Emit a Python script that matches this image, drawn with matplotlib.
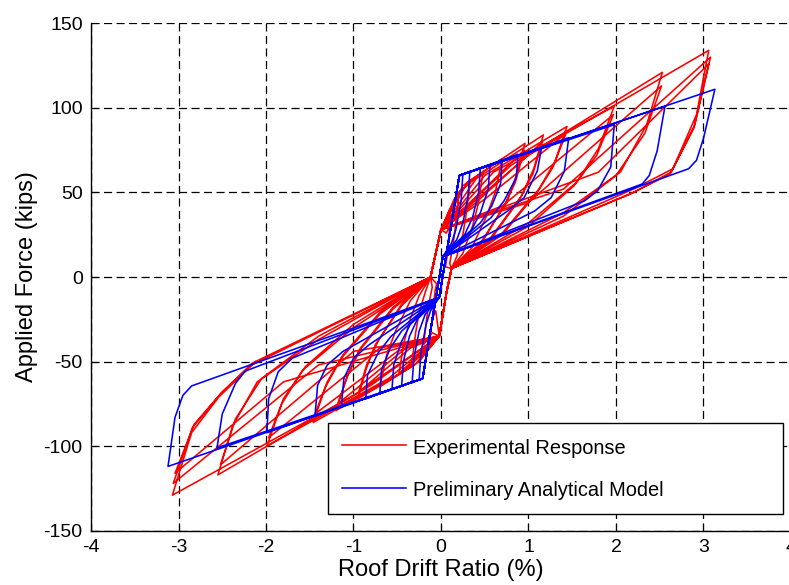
"""
Cyclic response of the wall: experiment against the preliminary model.

Each half cycle is stored as a few key points read off the original figure
(peak, unloading bends, return point) and joined into one polyline per series.
"""

import matplotlib.pyplot as plt
import numpy as np

# ---- experimental response (red), one entry per cycle ----
RED_POS_PEAK_X = [0.10, 0.20, 0.33, 0.48, 0.70, 0.96, 0.95, 1.17, 1.16, 1.44, 1.43, 1.98, 1.97, 2.53, 2.52, 3.06, 3.08, 3.06]
RED_POS_PEAK_Y = [30, 47, 56, 62, 70, 79, 75, 84, 80, 89, 85, 101, 96, 121, 113, 134, 130, 126]
RED_POS_VIA_X = [0.06, 0.10, 0.15, 0.20, 0.25, 0.30, 0.35, 0.40, 0.40, 0.50, 0.50, 0.60, 0.70, 0.80, 1.00, 1.00, 1.40, 1.80]
RED_POS_VIA_Y = [26, 40, 46, 50, 54, 56, 45, 58, 44, 60, 46, 62, 42, 66, 44, 72, 52, 62]
RED_POS_K1_X = [0.08, 0.17, 0.29, 0.42, 0.62, 0.86, 0.85, 1.06, 1.05, 1.30, 1.28, 1.80, 1.78, 2.35, 2.33, 2.92, 2.90, 2.89]
RED_POS_K1_Y = [18, 32, 38, 42, 50, 60, 56, 64, 61, 68, 65, 76, 72, 90, 85, 96, 90, 88]
RED_POS_K2_X = [0.07, 0.14, 0.25, 0.36, 0.52, 0.75, 0.72, 0.92, 0.90, 1.12, 1.10, 1.55, 1.52, 2.05, 2.00, 2.65, 2.63, 2.62]
RED_POS_K2_Y = [12, 20, 25, 30, 36, 44, 42, 48, 46, 52, 50, 56, 54, 62, 60, 64, 62, 61]
RED_POS_LOW_X = [0.05, 0.10, 0.18, 0.25, 0.35, 0.45, 0.45, 0.55, 0.55, 0.70, 0.70, 1.00, 1.00, 1.40, 1.40, 2.20, 2.20, 2.16]
RED_POS_LOW_Y = [6, 8, 12, 14, 17, 20, 19, 22, 21, 26, 25, 32, 30, 38, 36, 52, 50, 49]

RED_NEG_PEAK_X = [-0.10, -0.20, -0.33, -0.48, -0.70, -0.95, -0.94, -1.20, -1.18, -1.46, -1.44, -1.99, -1.97, -2.55, -2.52, -3.07, -3.06, -3.04]
RED_NEG_PEAK_Y = [-25, -40, -50, -57, -65, -72, -68, -79, -75, -86, -81, -100, -95, -117, -111, -129, -122, -116]
RED_NEG_VIA_X = [-0.06, -0.10, -0.15, -0.20, -0.25, -0.30, -0.35, -0.40, -0.40, -0.50, -0.50, -0.60, -0.70, -0.80, -1.00, -1.00, -1.40, -1.80]
RED_NEG_VIA_Y = [-20, -33, -40, -45, -50, -52, -42, -55, -42, -58, -44, -60, -42, -64, -44, -70, -52, -62]
RED_NEG_K1_X = [-0.08, -0.17, -0.29, -0.42, -0.62, -0.86, -0.85, -1.08, -1.06, -1.32, -1.30, -1.82, -1.80, -2.38, -2.35, -2.85, -2.84, -2.82]
RED_NEG_K1_Y = [-14, -27, -33, -38, -46, -55, -52, -60, -57, -65, -62, -75, -72, -88, -84, -92, -89, -87]
RED_NEG_K2_X = [-0.07, -0.14, -0.25, -0.36, -0.52, -0.75, -0.72, -0.94, -0.92, -1.14, -1.12, -1.58, -1.55, -2.10, -2.05, -2.54, -2.52, -2.50]
RED_NEG_K2_Y = [-9, -16, -21, -26, -32, -40, -38, -44, -42, -48, -46, -55, -53, -62, -60, -71, -69, -68]
RED_NEG_RET_X = [-0.05, -0.10, -0.18, -0.25, -0.35, -0.45, -0.45, -0.55, -0.55, -0.70, -0.70, -1.00, -1.00, -1.40, -1.40, -2.16, -2.16, -2.12]
RED_NEG_RET_Y = [-4, -6, -9, -11, -14, -17, -16, -19, -18, -22, -21, -30, -28, -37, -35, -52, -51, -50]

# points where the red curves cross the centre
RED_POS_START_X = [-0.12, 0.00]
RED_POS_START_Y = [0, 28]
RED_NEG_START_X = [0.12, 0.06, -0.02]
RED_NEG_START_Y = [5, -10, -35]

# ---- preliminary analytical model (blue), one entry per amplitude ----
BLUE_POS_PEAK_X = [0.25, 0.33, 0.45, 0.56, 0.70, 0.88, 1.15, 1.46, 1.98, 2.56, 3.13]
BLUE_POS_PEAK_Y = [61, 62.5, 64.5, 66.5, 69, 72.6, 76.5, 82.4, 90, 101, 111]
BLUE_POS_B1_X = [0.23, 0.31, 0.43, 0.54, 0.68, 0.86, 1.10, 1.41, 1.94, 2.47, 3.00]
BLUE_POS_B1_Y = [45, 48, 50, 52, 55, 58.7, 62.6, 62.6, 65, 74.5, 82]
BLUE_POS_B2_X = [0.17, 0.25, 0.36, 0.45, 0.58, 0.72, 0.95, 1.26, 1.79, 2.38, 2.92]
BLUE_POS_B2_Y = [28, 32, 35, 38, 42, 45, 46.9, 47, 51, 60, 69]
BLUE_POS_JOIN_X = [0.12, 0.18, 0.27, 0.35, 0.45, 0.57, 0.76, 1.07, 1.64, 2.30, 2.83]
BLUE_POS_JOIN_Y = [20, 22, 25, 28, 32, 35, 39, 39, 45, 55, 64]

BLUE_NEG_PEAK_X = [-0.25, -0.33, -0.45, -0.56, -0.70, -0.86, -1.14, -1.44, -1.99, -2.56, -3.12]
BLUE_NEG_PEAK_Y = [-61, -62.5, -64.5, -66.5, -69, -72, -77, -82, -92, -101, -112]
BLUE_NEG_B1_X = [-0.23, -0.31, -0.43, -0.54, -0.68, -0.84, -1.11, -1.41, -1.97, -2.50, -3.04]
BLUE_NEG_B1_Y = [-45, -48, -50, -52, -55, -58, -60, -64, -72, -81, -83]
BLUE_NEG_B2_X = [-0.17, -0.25, -0.36, -0.45, -0.58, -0.72, -1.00, -1.30, -1.86, -2.35, -2.95]
BLUE_NEG_B2_Y = [-28, -32, -35, -38, -42, -45, -48, -52, -56, -63, -70]
BLUE_NEG_JOIN_X = [-0.12, -0.18, -0.27, -0.35, -0.45, -0.57, -0.82, -1.12, -1.70, -2.24, -2.85]
BLUE_NEG_JOIN_Y = [-20, -22, -25, -28, -32, -35, -40, -44, -48, -55.7, -64.4]

# yield and return corners of the model near the origin
BLUE_CORNER_X = [0.21, 0.02, -0.21, -0.02]
BLUE_CORNER_Y = [60, 12, -60, -12]

X_TICKS = [-4, -3, -2, -1, 0, 1, 2, 3, 4]
Y_TICKS = [-150, -100, -50, 0, 50, 100, 150]


def red_path():
    """Join the experimental cycles into one polyline."""
    xs, ys = [], []
    for i in range(len(RED_POS_PEAK_X)):
        xs += RED_POS_START_X + [RED_POS_VIA_X[i], RED_POS_PEAK_X[i], RED_POS_K1_X[i],
                                 RED_POS_K2_X[i], RED_POS_LOW_X[i]]
        ys += RED_POS_START_Y + [RED_POS_VIA_Y[i], RED_POS_PEAK_Y[i], RED_POS_K1_Y[i],
                                 RED_POS_K2_Y[i], RED_POS_LOW_Y[i]]
        xs += RED_NEG_START_X + [RED_NEG_VIA_X[i], RED_NEG_PEAK_X[i], RED_NEG_K1_X[i],
                                 RED_NEG_K2_X[i], RED_NEG_RET_X[i]]
        ys += RED_NEG_START_Y + [RED_NEG_VIA_Y[i], RED_NEG_PEAK_Y[i], RED_NEG_K1_Y[i],
                                 RED_NEG_K2_Y[i], RED_NEG_RET_Y[i]]
    return np.array(xs), np.array(ys)


def blue_path():
    """Join the model cycles into one polyline."""
    xs, ys = [BLUE_CORNER_X[3]], [BLUE_CORNER_Y[3]]
    for i in range(len(BLUE_POS_PEAK_X)):
        xs += [BLUE_CORNER_X[0], BLUE_POS_PEAK_X[i], BLUE_POS_B1_X[i], BLUE_POS_B2_X[i],
               BLUE_POS_JOIN_X[i], BLUE_CORNER_X[1]]
        ys += [BLUE_CORNER_Y[0], BLUE_POS_PEAK_Y[i], BLUE_POS_B1_Y[i], BLUE_POS_B2_Y[i],
               BLUE_POS_JOIN_Y[i], BLUE_CORNER_Y[1]]
        xs += [BLUE_CORNER_X[2], BLUE_NEG_PEAK_X[i], BLUE_NEG_B1_X[i], BLUE_NEG_B2_X[i],
               BLUE_NEG_JOIN_X[i], BLUE_CORNER_X[3]]
        ys += [BLUE_CORNER_Y[2], BLUE_NEG_PEAK_Y[i], BLUE_NEG_B1_Y[i], BLUE_NEG_B2_Y[i],
               BLUE_NEG_JOIN_Y[i], BLUE_CORNER_Y[3]]
    return np.array(xs), np.array(ys)


def main() -> None:
    """Draw and save the figure."""
    plt.rcParams["font.family"] = ["Liberation Sans", "DejaVu Sans"]
    plt.rcParams["axes.unicode_minus"] = False

    fig = plt.figure(figsize=(7.89, 5.85), dpi=100)
    ax = fig.add_axes([91 / 789, 1 - 530.7 / 585, 700 / 789, 507.4 / 585])

    rx, ry = red_path()
    bx, by = blue_path()
    ax.plot(rx, ry, color="#ff0000", lw=1.15, label="Experimental Response", zorder=3)
    ax.plot(bx, by, color="#0000ff", lw=1.15, label="Preliminary Analytical Model", zorder=4)

    ax.set_xlim(-4, 4)
    ax.set_ylim(-150, 150)
    ax.set_xticks(X_TICKS)
    ax.set_yticks(Y_TICKS)
    ax.tick_params(direction="in", length=5, width=0.8, labelsize=14, pad=6)
    ax.grid(True, color="black", linestyle=(0, (6.5, 3.5)), linewidth=0.9)
    ax.spines["top"].set_visible(False)
    ax.spines["right"].set_visible(False)
    for side in ("left", "bottom"):
        ax.spines[side].set_linewidth(1.0)

    ax.set_xlabel("Roof Drift Ratio (%)", fontsize=17, labelpad=2)
    ax.set_ylabel("Applied Force (kips)", fontsize=17, labelpad=4)

    leg = ax.legend(loc="lower left", bbox_to_anchor=(0.339, 0.033, 0.65, 0.18),
                    mode="expand", fontsize=14.4, handlelength=3.2, handletextpad=0.35,
                    handleheight=1.28, borderpad=0.68, labelspacing=1.05,
                    borderaxespad=0, fancybox=False, framealpha=1)
    leg.get_frame().set_edgecolor("black")
    leg.get_frame().set_linewidth(1.0)

    fig.savefig("out.png", dpi=100)


if __name__ == "__main__":
    main()
